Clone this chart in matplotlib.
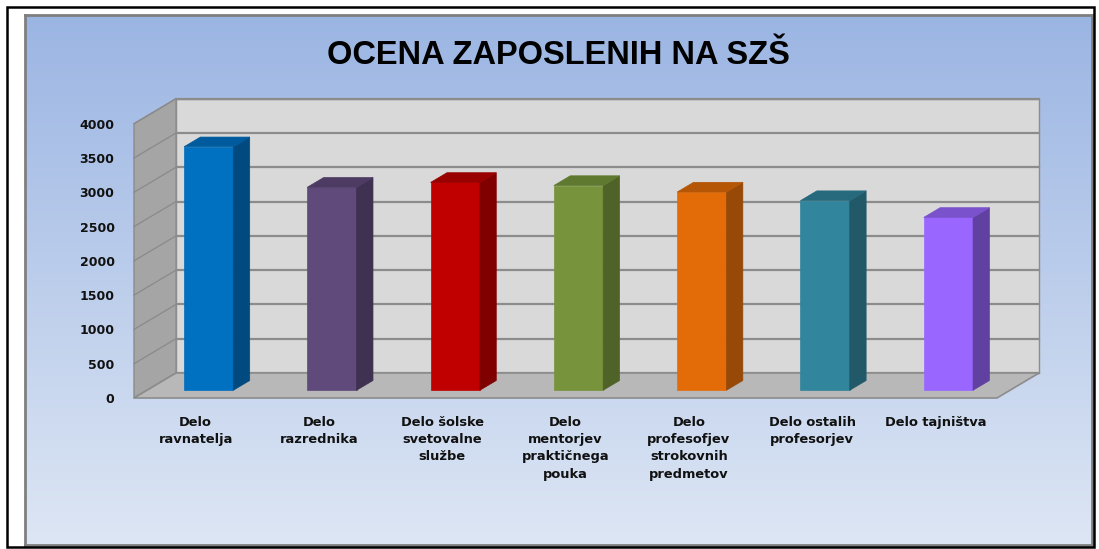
import numpy as np
import matplotlib
matplotlib.use("Agg")
import matplotlib.pyplot as plt
from matplotlib.patches import Polygon, Rectangle
from matplotlib.transforms import IdentityTransform

# ---- data ----
categories = ["Delo\nravnatelja", "Delo\nrazrednika", "Delo šolske\nsvetovalne\nslužbe",
              "Delo\nmentorjev\npraktičnega\npouka", "Delo\nprofesofjev\nstrokovnih\npredmetov",
              "Delo ostalih\nprofesorjev", "Delo tajništva"]
values = [3550, 2960, 3030, 2985, 2890, 2765, 2520]
yticks = [0, 500, 1000, 1500, 2000, 2500, 3000, 3500, 4000]
title = "OCENA ZAPOSLENIH NA SZŠ"

front_colors = ['#0070C0', '#604A7B', '#C00000', '#77933C', '#E36C09', '#31859C', '#9966FF']
side_colors = ['#004A80', '#3F3151', '#800000', '#4F6228', '#984807', '#215968', '#6040A0']
top_colors = ['#005A9E', '#4D3B63', '#990000', '#5F7A30', '#B55607', '#276A7D', '#7A52CC']

W, H = 1099, 549
fig = plt.figure(figsize=(W / 100, H / 100), dpi=100)
fig.patch.set_facecolor('white')

# outer black frame
fig.patches.append(Rectangle((7 / W, 1 - 547 / H), (1094 - 7) / W, (547 - 7) / H,
                             transform=fig.transFigure, fill=False, edgecolor='black',
                             linewidth=1.8, zorder=0))

# gradient panel
bg = fig.add_axes([25 / W, 1 - 545 / H, (1092 - 25) / W, (545 - 15) / H], zorder=0)
top_c = np.array([0x9B, 0xB5, 0xE3]) / 255
bot_c = np.array([0xDD, 0xE6, 0xF4]) / 255
t = np.linspace(0, 1, 256)[:, None, None]
grad = top_c[None, None, :] * (1 - t) + bot_c[None, None, :] * t
bg.imshow(grad, aspect='auto', extent=[0, 1, 0, 1], origin='upper')
bg.set_xticks([]); bg.set_yticks([])
for s in bg.spines.values():
    s.set_edgecolor('#7F7F7F'); s.set_linewidth(2)

# main axes = front plane of the 3D box
ax = fig.add_axes([134 / W, 1 - 398 / H, (997 - 134) / W, (398 - 123.7) / H], zorder=1)
ax.set_facecolor('none')
n = len(categories)
ax.set_xlim(0, n)
ax.set_ylim(0, 4000)
for s in ax.spines.values():
    s.set_visible(False)

DX, DY = 42, 25  # depth vector (pixels)

def pt(x, y, f):
    px, py = ax.transData.transform((x, y))
    return (px + f * DX, py + f * DY)

def poly(points, fc, ec, lw=0.8, z=2):
    p = Polygon(points, closed=True, facecolor=fc, edgecolor=ec, linewidth=lw,
                transform=IdentityTransform(), zorder=z, clip_on=False)
    ax.add_artist(p)

ymax = yticks[-1]
grid_c = '#8C8C8C'
# back wall
poly([pt(0, 0, 1), pt(n, 0, 1), pt(n, ymax, 1), pt(0, ymax, 1)], '#D9D9D9', grid_c, 1, 1)
for v in yticks:
    a, b = pt(0, v, 1), pt(n, v, 1)
    ax.add_artist(plt.Line2D([a[0], b[0]], [a[1], b[1]], color=grid_c, lw=1.6,
                             transform=IdentityTransform(), zorder=1.1, clip_on=False))
# left wall
poly([pt(0, 0, 0), pt(0, ymax, 0), pt(0, ymax, 1), pt(0, 0, 1)], '#A5A5A5', grid_c, 1, 1.2)
for v in yticks:
    a, b = pt(0, v, 0), pt(0, v, 1)
    ax.add_artist(plt.Line2D([a[0], b[0]], [a[1], b[1]], color='#8A8A8A', lw=0.9,
                             transform=IdentityTransform(), zorder=1.3, clip_on=False))
# floor
poly([pt(0, 0, 0), pt(n, 0, 0), pt(n, 0, 1), pt(0, 0, 1)], '#B8B8B8', grid_c, 1.2, 1.4)

# bars
hw = 0.2
f0, f1 = 0.31, 0.70
for i, v in enumerate(values):
    c = i + 0.5
    poly([pt(c - hw, 0, f0), pt(c + hw, 0, f0), pt(c + hw, v, f0), pt(c - hw, v, f0)],
         front_colors[i], front_colors[i], 0.5, 3)
    poly([pt(c + hw, 0, f0), pt(c + hw, 0, f1), pt(c + hw, v, f1), pt(c + hw, v, f0)],
         side_colors[i], side_colors[i], 0.5, 3)
    poly([pt(c - hw, v, f0), pt(c + hw, v, f0), pt(c + hw, v, f1), pt(c - hw, v, f1)],
         top_colors[i], top_colors[i], 0.5, 3)

ax.set_yticks(yticks)
ax.set_yticklabels([str(v) for v in yticks], fontsize=9, fontweight='bold',
                   family='DejaVu Sans', color='#111111')
ax.set_xticks([i + 0.5 for i in range(n)])
ax.set_xticklabels(categories, fontsize=9.4, fontweight='bold', family='DejaVu Sans',
                   linespacing=1.42, multialignment='center', color='#111111')
ax.tick_params(axis='y', length=0, pad=14)
ax.tick_params(axis='x', length=0, pad=13)

fig.text(558.5 / W, 1 - 64 / H, title, ha='center', va='baseline', fontsize=23.5,
         fontweight='bold', family='Liberation Sans', color='black')

fig.savefig('out.png', dpi=100)
